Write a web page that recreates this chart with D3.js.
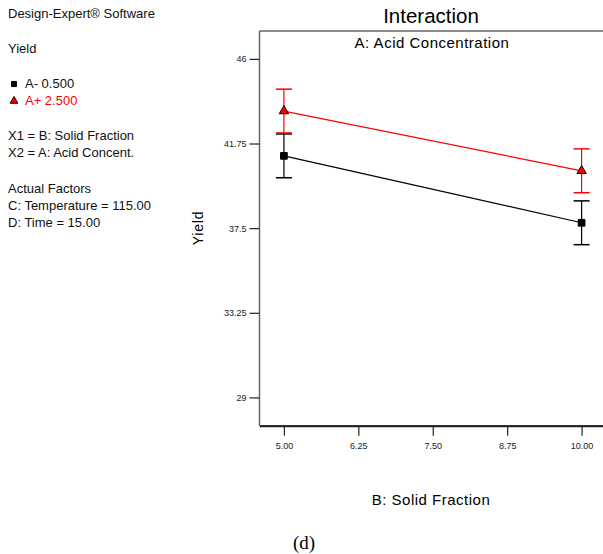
<!DOCTYPE html>
<html><head><meta charset="utf-8">
<script src="https://cdn.jsdelivr.net/npm/d3@7"></script>
<style>
body{margin:0;background:#fff;}
svg{display:block;font-family:"Liberation Sans",Arial,sans-serif;}
</style></head>
<body>
<svg id="c" width="603" height="554"></svg>
<script>
// ---- data ----
const xValues = [5.00, 10.00];
const seriesNames = ["A- 0.500", "A+ 2.500"];
const lowYield = [41.13, 37.77];    // A- 0.500
const highYield = [43.38, 40.38];   // A+ 2.500
const lowErr = [1.1, 1.1];
const highErr = [1.1, 1.1];
const yTicks = [29, 33.25, 37.5, 41.75, 46];
const yTickLabels = ["29", "33.25", "37.5", "41.75", "46"];
const xTicks = [5.00, 6.25, 7.50, 8.75, 10.00];
const xTickLabels = ["5.00", "6.25", "7.50", "8.75", "10.00"];
const infoLines = ["X1 = B: Solid Fraction", "X2 = A: Acid Concent."];
const factorLines = ["Actual Factors", "C: Temperature = 115.00", "D: Time = 15.00"];

const svg = d3.select("#c");
const L = 259.5, T = 31, R = 606, B = 425.7;
const x = d3.scaleLinear().domain([4.59, 10.41]).range([L, R]);
const y = d3.scaleLinear().domain([27.58, 47.4]).range([B, T]);

// frame
svg.append("line").attr("x1", L).attr("x2", R).attr("y1", T).attr("y2", T).attr("stroke", "#666").attr("stroke-width", 1.5);
svg.append("line").attr("x1", L).attr("x2", L).attr("y1", T).attr("y2", B).attr("stroke", "#666").attr("stroke-width", 1.5);
svg.append("line").attr("x1", L).attr("x2", R).attr("y1", B).attr("y2", B).attr("stroke", "#666").attr("stroke-width", 1.5);

// y axis
const ya = svg.append("g").attr("transform", `translate(${L},0)`)
  .call(d3.axisLeft(y).tickValues(yTicks).tickSize(10).tickSizeOuter(0)
    .tickFormat((d, i) => yTickLabels[i]));
ya.select(".domain").remove();
ya.selectAll(".tick line").attr("stroke", "#222").attr("stroke-width", 1.2);
ya.selectAll(".tick text").attr("font-size", 9).attr("font-family", "Liberation Sans, Arial, sans-serif").attr("fill", "#222").attr("x", -13);

// x axis
const xa = svg.append("g").attr("transform", `translate(0,${B})`)
  .call(d3.axisBottom(x).tickValues(xTicks).tickSize(10).tickSizeOuter(0)
    .tickFormat((d, i) => xTickLabels[i]));
xa.select(".domain").attr("stroke", "#222").attr("stroke-width", 2);
xa.selectAll(".tick line").attr("stroke", "#222").attr("stroke-width", 1.2);
xa.selectAll(".tick text").attr("font-size", 9).attr("font-family", "Liberation Sans, Arial, sans-serif").attr("fill", "#222").attr("y", 17);

// titles
svg.append("text").attr("x", 431).attr("y", 23).attr("text-anchor", "middle").attr("font-size", 20.5).text("Interaction");
svg.append("text").attr("x", 432).attr("y", 48).attr("text-anchor", "middle").attr("font-size", 15).attr("letter-spacing", 0.5).text("A: Acid Concentration");
svg.append("text").attr("transform", "translate(203,228) rotate(-90)").attr("text-anchor", "middle").attr("font-size", 14).attr("letter-spacing", 0.8).text("Yield");
svg.append("text").attr("x", 431).attr("y", 505).attr("text-anchor", "middle").attr("font-size", 15).attr("letter-spacing", 0.5).text("B: Solid Fraction");
svg.append("text").attr("x", 304).attr("y", 549).attr("text-anchor", "middle").attr("font-size", 19).attr("font-family", "Liberation Serif, Times New Roman, serif").text("(d)");

// series
const series = [
  {vals: lowYield, err: lowErr, color: "#000", shape: d3.symbolSquare, size: 45},
  {vals: highYield, err: highErr, color: "#ff0000", shape: d3.symbolTriangle, size: 38}
];
const line = d3.line().x((d, i) => x(xValues[i])).y(d => y(d));
series.forEach(s => {
  const g = svg.append("g");
  s.vals.forEach((v, i) => {
    const cx = x(xValues[i]);
    g.append("line").attr("x1", cx).attr("x2", cx).attr("y1", y(v + s.err[i])).attr("y2", y(v - s.err[i])).attr("stroke", s.color).attr("stroke-width", 1.2);
    [v + s.err[i], v - s.err[i]].forEach(e => {
      g.append("line").attr("x1", cx - 8).attr("x2", cx + 8).attr("y1", y(e)).attr("y2", y(e)).attr("stroke", s.color).attr("stroke-width", 1.5);
    });
  });
  g.append("path").datum(s.vals).attr("d", line).attr("fill", "none").attr("stroke", s.color).attr("stroke-width", 1.2);
  s.vals.forEach((v, i) => {
    g.append("path").attr("d", d3.symbol().type(s.shape).size(s.size)())
      .attr("transform", `translate(${x(xValues[i])},${y(v)})`)
      .attr("fill", s.color).attr("stroke", "#000").attr("stroke-width", 1);
  });
});

// left info panel
const info = svg.append("g").attr("font-size", 13).attr("fill", "#111");
info.append("text").attr("x", 8).attr("y", 18).text("Design-Expert\u00AE Software");
info.append("text").attr("x", 8).attr("y", 53).text("Yield");
const legY = [88, 105];
series.forEach((s, i) => {
  info.append("path").attr("d", d3.symbol().type(s.shape).size(26)())
    .attr("transform", `translate(14,${legY[i] - 4})`)
    .attr("fill", s.color).attr("stroke", "#000").attr("stroke-width", 1);
  info.append("text").attr("x", 25).attr("y", legY[i])
    .attr("fill", i === 0 ? "#111" : "#ff0000").text(seriesNames[i]);
});
infoLines.forEach((t, i) => info.append("text").attr("x", 8).attr("y", 140 + i * 17).text(t));
factorLines.forEach((t, i) => info.append("text").attr("x", 8).attr("y", 193 + i * 17).text(t));
</script>
</body></html>
